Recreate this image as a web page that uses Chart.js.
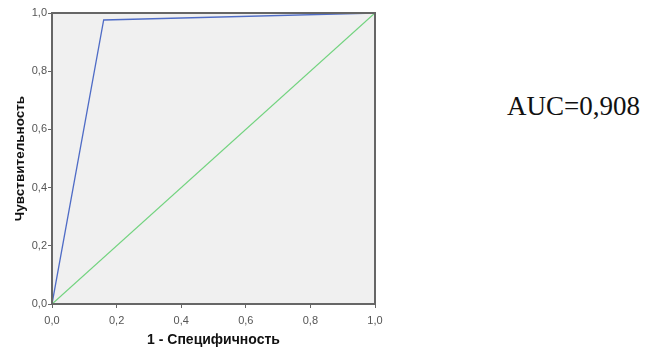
<!DOCTYPE html>
<html>
<head>
    <title>ROC</title>
    <script src="https://cdn.jsdelivr.net/npm/chart.js"></script>
    <style>
        body { margin: 0; background: #ffffff; }
        #wrap { position: relative; width: 646px; height: 349px; }
        #box { position: absolute; left: 0; top: 0; width: 400px; height: 349px; }
        #auc {
            position: absolute; left: 507px; top: 91px;
            font-family: "Liberation Serif", "Times New Roman", serif;
            font-size: 27px; color: #111;
        }
    </style>
</head>
<body>
<div id="wrap">
    <div id="box"><canvas id="roc"></canvas></div>
    <div id="auc">AUC=0,908</div>
</div>

<script>
    // ROC curve points
    const rocFpr = [0, 0.16, 1];
    const rocTpr = [0, 0.976, 1];
    // reference diagonal
    const refFpr = [0, 1];
    const refTpr = [0, 1];
    const tickValues = [0, 0.2, 0.4, 0.6, 0.8, 1.0];

    const toPoints = (xs, ys) => xs.map((x, i) => ({ x: x, y: ys[i] }));
    const fmt = v => v.toFixed(1).replace('.', ',');

    // gray plot background + frame around the chart area
    const framePlugin = {
        id: 'frame',
        beforeDraw(chart) {
            const a = chart.chartArea, ctx = chart.ctx;
            ctx.save();
            ctx.fillStyle = '#f0f0f0';
            ctx.fillRect(a.left, a.top, a.right - a.left, a.bottom - a.top);
            ctx.restore();
        },
        afterDraw(chart) {
            const a = chart.chartArea, ctx = chart.ctx;
            ctx.save();
            ctx.strokeStyle = '#666666';
            ctx.lineWidth = 2;
            ctx.strokeRect(a.left, a.top, a.right - a.left, a.bottom - a.top);
            ctx.restore();
        }
    };

    const tickFont = { family: '"Liberation Sans", Arial, sans-serif', size: 11 };

    new Chart(document.getElementById('roc'), {
        type: 'scatter',
        data: {
            datasets: [{
                label: 'ROC',
                data: toPoints(rocFpr, rocTpr),
                showLine: true,
                borderColor: '#4f6cc6',
                borderWidth: 1.3,
                pointRadius: 0,
                fill: false
            }, {
                label: 'Reference',
                data: toPoints(refFpr, refTpr),
                showLine: true,
                borderColor: '#72d37f',
                borderWidth: 1.3,
                pointRadius: 0,
                fill: false
            }]
        },
        options: {
            responsive: true,
            maintainAspectRatio: false,
            animation: false,
            layout: { padding: { top: 13, right: 25, left: 0, bottom: 0 } },
            plugins: {
                legend: { display: false },
                tooltip: { enabled: false }
            },
            scales: {
                x: {
                    type: 'linear',
                    min: 0, max: 1,
                    afterBuildTicks: s => { s.ticks = tickValues.map(v => ({ value: v })); },
                    afterFit: s => { s.height = 45; },
                    grid: { drawOnChartArea: false, tickLength: 4, tickColor: '#666666' },
                    border: { display: false },
                    ticks: { font: tickFont, color: '#555555', padding: 6, maxRotation: 0, callback: v => fmt(v) },
                    title: {
                        display: true, text: '1 - Специфичность', color: '#111111',
                        font: { family: '"Liberation Sans", Arial, sans-serif', size: 14, weight: 'bold' },
                        padding: { top: 0, bottom: 0 }
                    }
                },
                y: {
                    type: 'linear',
                    min: 0, max: 1,
                    afterBuildTicks: s => { s.ticks = tickValues.map(v => ({ value: v })); },
                    afterFit: s => { s.width = 52; },
                    grid: { drawOnChartArea: false, tickLength: 4, tickColor: '#666666' },
                    border: { display: false },
                    ticks: { font: tickFont, color: '#555555', padding: 1, callback: v => fmt(v) },
                    title: {
                        display: true, text: 'Чувствительность', color: '#111111',
                        font: { family: '"Liberation Sans", Arial, sans-serif', size: 13.5, weight: 'bold' },
                        padding: { top: 12, bottom: 0 }
                    }
                }
            }
        },
        plugins: [framePlugin]
    });
</script>
</body>
</html>
